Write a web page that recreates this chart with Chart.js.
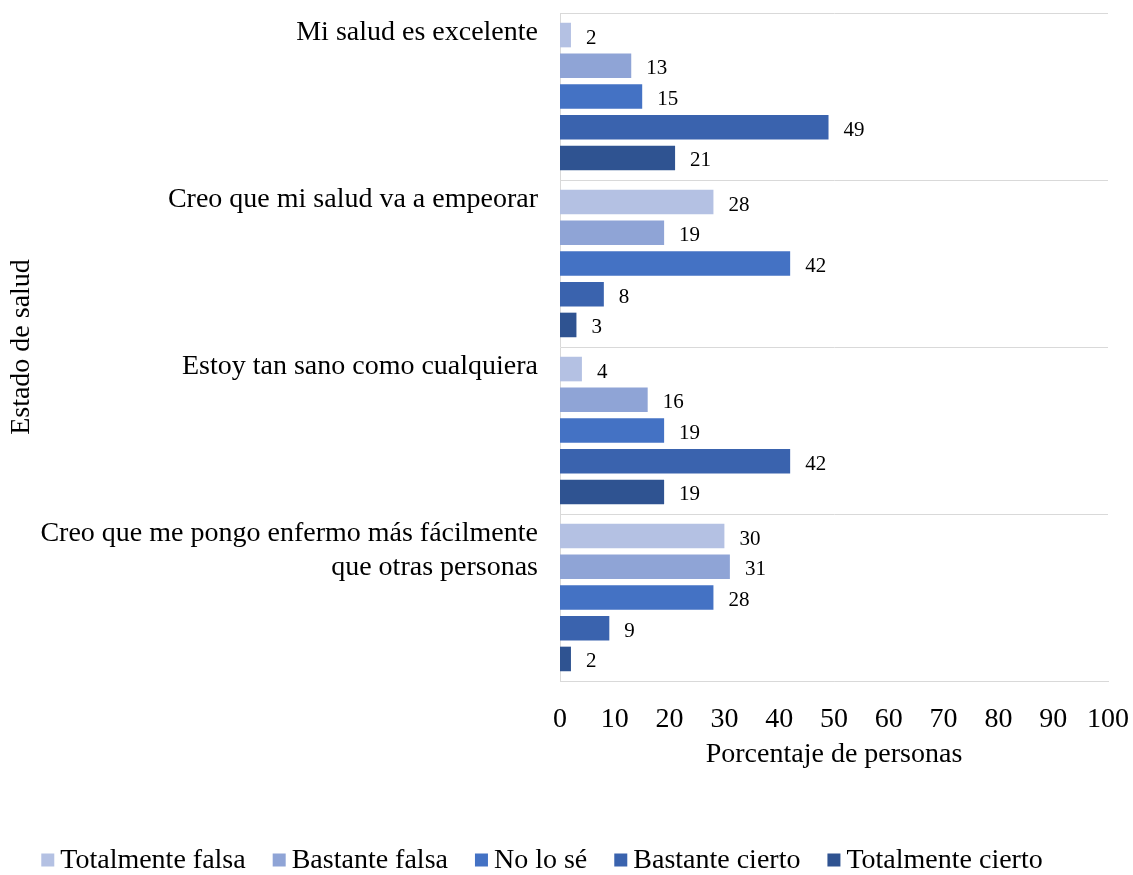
<!DOCTYPE html>
<html>
<head>
<meta charset="utf-8">
<script src="https://cdn.jsdelivr.net/npm/chart.js@4.4.1/dist/chart.umd.min.js"></script>
<style>
  html, body { margin: 0; padding: 0; background: #ffffff; }
  #wrap { width: 1133px; height: 875px; }
</style>
</head>
<body>
<div id="wrap"><canvas id="c" width="1133" height="875"></canvas></div>
<script>
// ---- Data ----
const categories = [
  ["Mi salud es excelente"],
  ["Creo que mi salud va a empeorar"],
  ["Estoy tan sano como cualquiera"],
  ["Creo que me pongo enfermo más fácilmente", "que otras personas"]
];
const seriesNames = ["Totalmente falsa", "Bastante falsa", "No lo sé", "Bastante cierto", "Totalmente cierto"];
const totalmenteFalsa  = [2, 28, 4, 30];
const bastanteFalsa    = [13, 19, 16, 31];
const noLoSe           = [15, 42, 19, 28];
const bastanteCierto   = [49, 8, 42, 9];
const totalmenteCierto = [21, 3, 19, 2];
const xTicks = [0, 10, 20, 30, 40, 50, 60, 70, 80, 90, 100];
const xTitle = "Porcentaje de personas";
const yTitle = "Estado de salud";

const seriesColors = ["#B4C1E3", "#8FA4D6", "#4472C4", "#3A63AE", "#2F5391"];
const FONT = "'Liberation Serif', 'Times New Roman', serif";

const seriesValues = [totalmenteFalsa, bastanteFalsa, noLoSe, bastanteCierto, totalmenteCierto];

// ---- Plugins ----
const valueLabels = {
  id: 'valueLabels',
  afterDatasetsDraw(chart) {
    const ctx = chart.ctx;
    ctx.save();
    ctx.font = "21px " + FONT;
    ctx.fillStyle = "#000000";
    ctx.textAlign = "left";
    ctx.textBaseline = "middle";
    chart.data.datasets.forEach((ds, di) => {
      const meta = chart.getDatasetMeta(di);
      meta.data.forEach((el, i) => {
        ctx.fillText(String(ds.data[i]), el.x + 15, el.y + 3);
      });
    });
    ctx.restore();
  }
};

const categoryLabels = {
  id: 'categoryLabels',
  afterDraw(chart) {
    const ctx = chart.ctx;
    const ys = chart.scales.y;
    const band = (ys.bottom - ys.top) / categories.length;
    ctx.save();
    ctx.font = "28px " + FONT;
    ctx.fillStyle = "#000000";
    ctx.textAlign = "right";
    ctx.textBaseline = "alphabetic";
    categories.forEach((lines, i) => {
      const top = ys.getPixelForValue(i) - band / 2;
      lines.forEach((ln, k) => {
        ctx.fillText(ln, 538, top + 27 + k * 34);
      });
    });
    ctx.restore();
  }
};

const customLegend = {
  id: 'customLegend',
  afterDraw(chart) {
    const ctx = chart.ctx;
    ctx.save();
    ctx.font = "28px " + FONT;
    ctx.textAlign = "left";
    ctx.textBaseline = "middle";
    const box = 13, gapText = 6, gapItem = 27;
    const widths = seriesNames.map(n => box + gapText + ctx.measureText(n).width);
    const total = widths.reduce((a, b) => a + b, 0) + gapItem * (seriesNames.length - 1);
    let x = 542 - total / 2;
    const yc = 860;
    seriesNames.forEach((n, i) => {
      ctx.fillStyle = seriesColors[i];
      ctx.fillRect(x, yc - box / 2, box, box);
      ctx.fillStyle = "#000000";
      ctx.fillText(n, x + box + gapText, yc + 1);
      x += widths[i] + gapItem;
    });
    ctx.restore();
  }
};

// ---- Chart ----
new Chart(document.getElementById('c'), {
  type: 'bar',
  data: {
    labels: categories,
    datasets: seriesNames.map((name, i) => ({
      label: name,
      data: seriesValues[i],
      backgroundColor: seriesColors[i],
      borderWidth: 0,
      categoryPercentage: 0.92,
      barPercentage: 0.8
    }))
  },
  options: {
    indexAxis: 'y',
    responsive: false,
    animation: false,
    devicePixelRatio: 1,
    layout: { padding: { top: 13, right: 25, left: 0, bottom: 75 } },
    plugins: {
      legend: { display: false },
      tooltip: { enabled: false }
    },
    scales: {
      x: {
        min: 0, max: 100,
        afterBuildTicks(scale) { scale.ticks = xTicks.map(v => ({ value: v })); },
        afterFit(scale) { scale.height = 119; scale.paddingRight = 0; },
        grid: { display: false, drawTicks: false },
        border: { display: true, color: '#D9D9D9', width: 1 },
        ticks: {
          padding: 22,
          color: '#000000',
          font: { family: FONT, size: 28 },
          maxRotation: 0, autoSkip: false
        },
        title: {
          display: true, text: xTitle, color: '#000000',
          font: { family: FONT, size: 28 },
          padding: { top: 0, bottom: 29 }
        }
      },
      y: {
        afterFit(scale) { scale.width = 560; },
        grid: { display: true, offset: true, color: '#D9D9D9', lineWidth: 1, drawTicks: false },
        border: { display: true, color: '#D9D9D9', width: 1 },
        ticks: { display: false },
        title: {
          display: true, text: yTitle, color: '#000000',
          font: { family: FONT, size: 28 },
          padding: { top: 5, bottom: 0 }
        }
      }
    }
  },
  plugins: [valueLabels, categoryLabels, customLegend]
});
</script>
</body>
</html>
